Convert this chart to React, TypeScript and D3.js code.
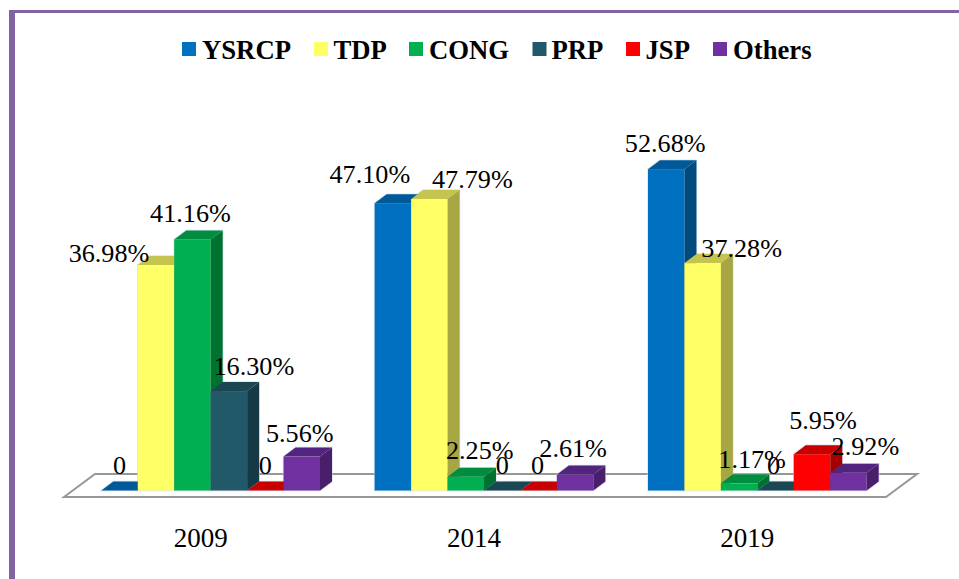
import React from "react";
import * as d3 from "d3";

const years = ["2009", "2014", "2019"];
const parties = ["YSRCP", "TDP", "CONG", "PRP", "JSP", "Others"];
const ysrcp = [0, 47.1, 52.68];
const tdp = [36.98, 47.79, 37.28];
const cong = [41.16, 2.25, 1.17];
const prp = [16.3, 0, 0];
const jsp = [0, 0, 5.95];
const others = [5.56, 2.61, 2.92];
const seriesValues = [ysrcp, tdp, cong, prp, jsp, others];

const frontColors = ["#0070C0", "#FFFF66", "#00B050", "#215968", "#FF0000", "#7030A0"];
const topColors = ["#005A9A", "#C4C44F", "#008D40", "#1B4753", "#C80000", "#52247F"];
const sideColors = ["#004A7E", "#A6A642", "#00722F", "#153A45", "#A50000", "#491F6C"];

// manual placement of each value label relative to its bar's centre and top [series][year]
const labelDx = [
  [0, -23, -1],
  [-47, 43, 39],
  [-2, 14, 13],
  [25, 0, -2],
  [0, -1, 11],
  [-2, -2, 17],
];
const labelDy = [
  [-17, -20, -17],
  [-3, -11, -6],
  [-17, -18, -15],
  [-16, -16.5, -16.5],
  [-17, -16.5, -25],
  [-15, -18, -18],
];

const legendSwatchX = [182, 314, 409, 532.5, 626, 713];
const legendTextX = [202, 333.5, 429, 551.5, 645.5, 733];

const W = 959;
const H = 579;
const depthX = 12;
const depthY = 9;
const baseline = 490.5;
const fontFamily = "'Liberation Serif', 'Times New Roman', serif";

export default function App() {
  const x0 = d3.scaleBand<string>().domain(years).range([74, 894]).paddingInner(0.2).paddingOuter(0.1);
  const x1 = d3.scaleBand<string>().domain(parties).range([0, x0.bandwidth()]);
  const y = d3.scaleLinear().domain([0, 60]).range([baseline, baseline - 366]);
  const poly = (pts: [number, number][]) => d3.line()(pts) + "Z";

  const silhouette = (l: number, r: number, t: number) =>
    poly([[l, baseline], [l, t], [l + depthX, t - depthY], [r + depthX, t - depthY], [r + depthX, baseline - depthY], [r, baseline]]);

  return (
    <svg
      width={W}
      height={H}
      style={{ position: "fixed", left: 0, top: 0, background: "#fff", display: "block" }}
      fontFamily={fontFamily}
    >
      <rect x={9} y={10} width={W - 9} height={3} fill="#8064A2" />
      <rect x={9} y={10} width={6} height={H - 10} fill="#8064A2" />

      {/* floor */}
      <path
        d={poly([[64, 497], [95, 474], [917, 474], [886, 497]])}
        fill="#fff"
        stroke="#979797"
        strokeWidth={2}
      />

      {/* legend */}
      {parties.map((p, i) => (
        <g key={p}>
          <rect x={legendSwatchX[i]} y={42} width={14} height={14} fill={frontColors[i]} />
          <text x={legendTextX[i]} y={59} fontSize={26.7} fontWeight="bold" fill="#000">
            {p}
          </text>
        </g>
      ))}

      {/* soft halo behind the bars */}
      {years.map((yr, yi) =>
        parties.map((p, si) => {
          const v = seriesValues[si][yi];
          const l = x0(yr)! + x1(p)!;
          return (
            <path
              key={yr + p}
              d={silhouette(l, l + x1.bandwidth(), y(v))}
              fill="none"
              stroke="#C9D6EA"
              strokeOpacity={0.7}
              strokeWidth={1.5}
            />
          );
        })
      )}

      {/* bars */}
      {years.map((yr, yi) =>
        parties.map((p, si) => {
          const v = seriesValues[si][yi];
          const l = x0(yr)! + x1(p)!;
          const r = l + x1.bandwidth();
          const t = y(v);
          return (
            <g key={yr + p}>
              {v > 0 && (
                <rect x={l} y={t} width={r - l} height={baseline - t} fill={frontColors[si]} />
              )}
              <path
                d={poly([[l, t], [l + depthX, t - depthY], [r + depthX, t - depthY], [r, t]])}
                fill={topColors[si]}
              />
              {v > 0 && (
                <path
                  d={poly([[r, t], [r + depthX, t - depthY], [r + depthX, baseline - depthY], [r, baseline]])}
                  fill={sideColors[si]}
                />
              )}
            </g>
          );
        })
      )}

      {/* value labels */}
      {years.map((yr, yi) =>
        parties.map((p, si) => {
          const v = seriesValues[si][yi];
          const cx = x0(yr)! + x1(p)! + x1.bandwidth() / 2;
          return (
            <text
              key={yr + p}
              x={cx + labelDx[si][yi]}
              y={y(v) + labelDy[si][yi]}
              fontSize={26.2}
              textAnchor="middle"
              fill="#000"
            >
              {v === 0 ? "0" : v.toFixed(2) + "%"}
            </text>
          );
        })
      )}

      {/* category labels */}
      {years.map((yr) => (
        <text
          key={yr}
          x={x0(yr)! + x0.bandwidth() / 2 - 10}
          y={547}
          fontSize={27}
          textAnchor="middle"
          fill="#000"
        >
          {yr}
        </text>
      ))}
    </svg>
  );
}
